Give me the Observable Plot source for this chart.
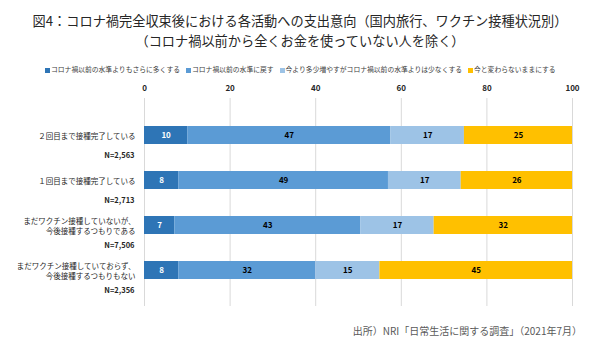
<!DOCTYPE html>
<html><head><meta charset="utf-8">
<script src="https://cdn.jsdelivr.net/npm/d3@7"></script>
<script src="https://cdn.jsdelivr.net/npm/@observablehq/plot@0.6"></script>
<style>
body{margin:0;background:#fff;font-family:"Noto Sans CJK JP","Noto Sans",sans-serif;}
#wrap{position:relative;width:600px;height:353px;overflow:hidden;}
#title{position:absolute;left:0;top:11px;width:600px;text-align:center;font-size:13.2px;line-height:20px;color:#262626;}
#legend{position:absolute;left:45px;top:64px;font-size:6.8px;color:#404040;white-space:nowrap;}
#legend span.sw{display:inline-block;width:5px;height:5px;margin-right:1px;vertical-align:middle;}
#legend span.it{margin-right:6px;}
#caption{position:absolute;right:18px;top:323px;font-size:10px;color:#595959;}
#chart{position:absolute;left:0;top:0;}
</style></head>
<body><div id="wrap">
<div id="chart"></div>
<div id="title">図4：コロナ禍完全収束後における各活動への支出意向（国内旅行、ワクチン接種状況別）<br>（コロナ禍以前から全くお金を使っていない人を除く）</div>
<div id="legend"></div>
<div id="caption">出所）NRI「日常生活に関する調査」（2021年7月）</div>
</div>
<script>
const categories = [
  "２回目まで接種完了している",
  "１回目まで接種完了している",
  "まだワクチン接種していないが、\n今後接種するつもりである",
  "まだワクチン接種していておらず、\n今後接種するつもりもない"
];
const sampleSizes = ["N=2,563", "N=2,713", "N=7,506", "N=2,356"];
const seriesNames = [
  "コロナ禍以前の水準よりもさらに多くする",
  "コロナ禍以前の水準に戻す",
  "今より多少増やすがコロナ禍以前の水準よりは少なくする",
  "今と変わらないままにする"
];
const seriesColors = ["#2E75B6", "#5B9BD5", "#9DC3E6", "#FFC000"];
const valuesMore    = [10, 8, 7, 8];
const valuesReturn  = [47, 49, 43, 32];
const valuesSomewhat= [17, 17, 17, 15];
const valuesSame    = [25, 26, 32, 45];
const xTickLabels = [0, 20, 40, 60, 80, 100];

const seriesValues = [valuesMore, valuesReturn, valuesSomewhat, valuesSame];
const data = [];
categories.forEach((c, i) => {
  seriesNames.forEach((s, j) => {
    data.push({cat: c, series: s, value: seriesValues[j][i], idx: j});
  });
});
const rows = categories.map((c, i) => ({cat: c, n: sampleSizes[i]}));

// legend
const lg = document.getElementById("legend");
seriesNames.forEach((s, j) => {
  const it = document.createElement("span");
  it.className = "it";
  it.innerHTML = `<span class="sw" style="background:${seriesColors[j]}"></span>${s}`;
  lg.appendChild(it);
});

const font = '"Noto Sans CJK JP","Noto Sans",sans-serif';
const plot = Plot.plot({
  width: 600,
  height: 353,
  marginTop: 98,
  marginBottom: 47,
  marginLeft: 144,
  marginRight: 28,
  style: {fontFamily: font, background: "transparent"},
  x: {domain: [0, 1], axis: null, label: null},
  y: {domain: categories, range: [98, 306], padding: 0.6, axis: null, label: null},
  color: {domain: seriesNames, range: seriesColors},
  marks: [
    Plot.gridX(xTickLabels.map(d => d / 100), {stroke: "#d9d9d9", strokeOpacity: 1, strokeWidth: 1}),
    Plot.axisX(xTickLabels.map(d => d / 100), {anchor: "top", label: null, tickSize: 0, tickPadding: 8, fontSize: 8, fontWeight: "bold", fill: "#262626", tickFormat: d => String(Math.round(d * 100))}),
    Plot.barX(data, Plot.stackX({offset: "normalize", x: "value", y: "cat", fill: "series", z: "series"})),
    Plot.text(data, Plot.stackX({offset: "normalize", x: "value", y: "cat", z: "series", text: d => String(d.value),
      fill: d => d.idx === 0 ? "#ffffff" : "#000000", fontSize: 8, fontWeight: "bold"})),
    Plot.text(rows, {y: "cat", text: "cat", frameAnchor: "left", dx: -9, textAnchor: "end", lineAnchor: "middle", lineHeight: 1.3, fontSize: 7.5, fill: "#262626"}),
    Plot.text(rows, {y: "cat", text: "n", frameAnchor: "left", dx: -10, dy: 20, textAnchor: "end", fontSize: 7.5, fontWeight: "bold", fill: "#262626"})
  ]
});
document.getElementById("chart").appendChild(plot);
</script>
</body></html>
